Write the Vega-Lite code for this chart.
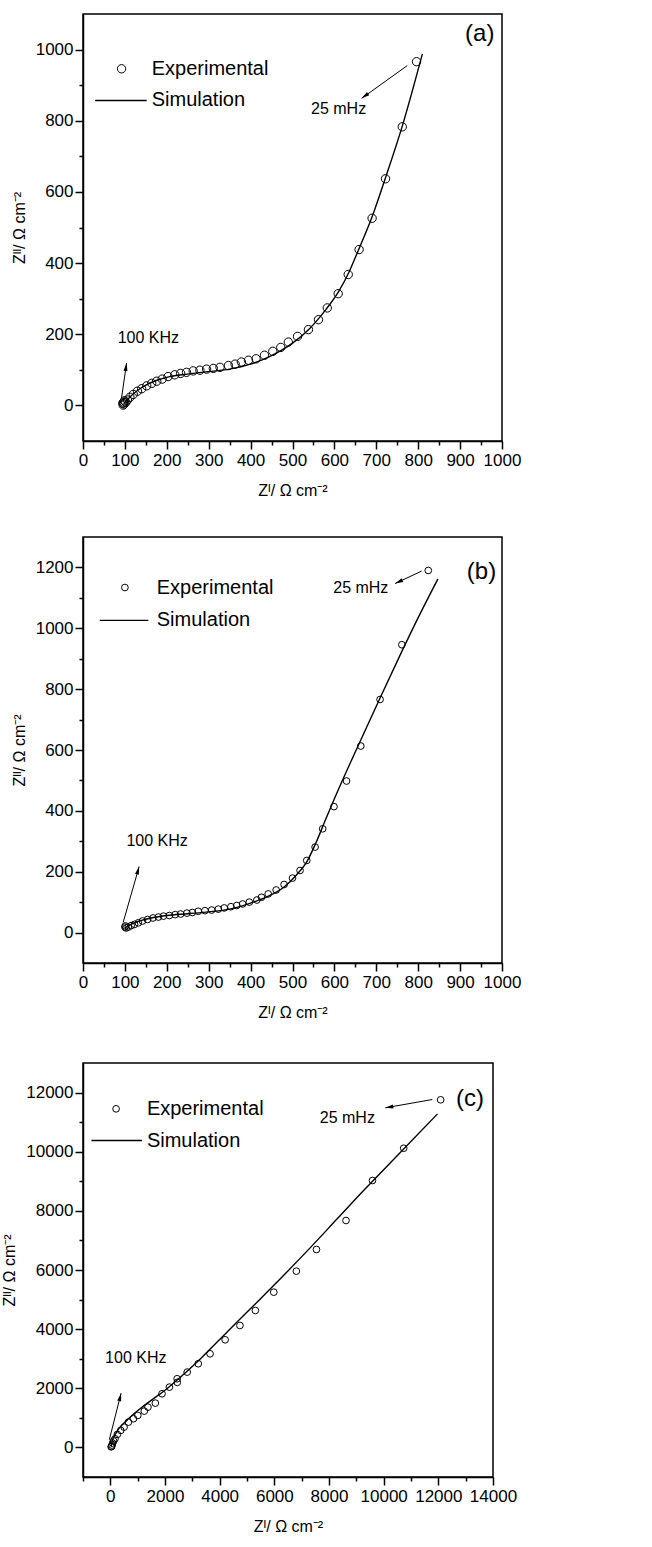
{
  "$schema": "https://vega.github.io/schema/vega-lite/v6.json",
  "padding": {"left": 0, "top": 13, "right": 10, "bottom": 2},
  "spacing": 37,
  "config": {
    "font": "Liberation Sans",
    "view": {"stroke": "black", "strokeWidth": 1.5},
    "axis": {"domainColor": "black", "domainWidth": 1.5, "tickColor": "black", "tickWidth": 1.5, "labelColor": "black", "labelFontSize": 17, "titleFontSize": 16, "titleFontWeight": "normal", "titleColor": "black", "grid": false, "labelFlush": false, "labelOverlap": false, "format": "d"}
  },
  "datasets": {
    "a_exp": [
      {"x": 95, "y": 6}, {"x": 96, "y": 1}, {"x": 97, "y": 9}, {"x": 98, "y": 4}, {"x": 99, "y": 13}, {"x": 102, "y": 9}, {"x": 106, "y": 15}, {"x": 112, "y": 23}, {"x": 120, "y": 31}, {"x": 130, "y": 40}, {"x": 140, "y": 47}, {"x": 152, "y": 55}, {"x": 164, "y": 62}, {"x": 176, "y": 68}, {"x": 189, "y": 74}, {"x": 203, "y": 81}, {"x": 219, "y": 86}, {"x": 233, "y": 90}, {"x": 247, "y": 93}, {"x": 263, "y": 97}, {"x": 279, "y": 99}, {"x": 295, "y": 102}, {"x": 311, "y": 104}, {"x": 327, "y": 107}, {"x": 347, "y": 112}, {"x": 363, "y": 116}, {"x": 378, "y": 122}, {"x": 395, "y": 127}, {"x": 413, "y": 131}, {"x": 433, "y": 141}, {"x": 453, "y": 152}, {"x": 472, "y": 163}, {"x": 490, "y": 178}, {"x": 512, "y": 194}, {"x": 538, "y": 213}, {"x": 562, "y": 241}, {"x": 583, "y": 274}, {"x": 609, "y": 314}, {"x": 633, "y": 368}, {"x": 659, "y": 438}, {"x": 690, "y": 526}, {"x": 722, "y": 637}, {"x": 762, "y": 783}, {"x": 796, "y": 966}
    ],
    "a_sim": [
      {"x": 97, "y": 3}, {"x": 105, "y": 15}, {"x": 115, "y": 27}, {"x": 130, "y": 42}, {"x": 150, "y": 57}, {"x": 175, "y": 70}, {"x": 200, "y": 79}, {"x": 250, "y": 88}, {"x": 300, "y": 95}, {"x": 350, "y": 102}, {"x": 400, "y": 116}, {"x": 450, "y": 140}, {"x": 500, "y": 175}, {"x": 540, "y": 215}, {"x": 580, "y": 270}, {"x": 610, "y": 320}, {"x": 635, "y": 375}, {"x": 655, "y": 430}, {"x": 690, "y": 530}, {"x": 722, "y": 640}, {"x": 762, "y": 785}, {"x": 810, "y": 988}
    ],
    "b_exp": [
      {"x": 100, "y": 18}, {"x": 101, "y": 22}, {"x": 103, "y": 15}, {"x": 108, "y": 18}, {"x": 115, "y": 23}, {"x": 123, "y": 27}, {"x": 132, "y": 32}, {"x": 142, "y": 38}, {"x": 154, "y": 43}, {"x": 167, "y": 48}, {"x": 180, "y": 51}, {"x": 192, "y": 54}, {"x": 206, "y": 56}, {"x": 220, "y": 59}, {"x": 233, "y": 61}, {"x": 248, "y": 64}, {"x": 261, "y": 66}, {"x": 275, "y": 70}, {"x": 291, "y": 72}, {"x": 307, "y": 74}, {"x": 323, "y": 77}, {"x": 337, "y": 81}, {"x": 353, "y": 85}, {"x": 367, "y": 89}, {"x": 381, "y": 94}, {"x": 397, "y": 100}, {"x": 415, "y": 107}, {"x": 426, "y": 116}, {"x": 442, "y": 127}, {"x": 461, "y": 140}, {"x": 480, "y": 158}, {"x": 500, "y": 179}, {"x": 518, "y": 204}, {"x": 534, "y": 237}, {"x": 554, "y": 281}, {"x": 572, "y": 341}, {"x": 599, "y": 414}, {"x": 629, "y": 498}, {"x": 663, "y": 613}, {"x": 709, "y": 766}, {"x": 761, "y": 946}, {"x": 824, "y": 1190}
    ],
    "b_sim": [
      {"x": 100, "y": 15}, {"x": 110, "y": 24}, {"x": 125, "y": 33}, {"x": 140, "y": 40}, {"x": 160, "y": 47}, {"x": 180, "y": 52}, {"x": 200, "y": 56}, {"x": 250, "y": 62}, {"x": 300, "y": 68}, {"x": 350, "y": 77}, {"x": 400, "y": 97}, {"x": 440, "y": 118}, {"x": 480, "y": 150}, {"x": 510, "y": 190}, {"x": 535, "y": 235}, {"x": 555, "y": 292}, {"x": 580, "y": 375}, {"x": 600, "y": 440}, {"x": 640, "y": 564}, {"x": 700, "y": 744}, {"x": 761, "y": 924}, {"x": 800, "y": 1035}, {"x": 847, "y": 1162}
    ],
    "c_exp": [
      {"x": 30, "y": 20}, {"x": 49, "y": 34}, {"x": 60, "y": 80}, {"x": 85, "y": 147}, {"x": 120, "y": 220}, {"x": 171, "y": 293}, {"x": 257, "y": 440}, {"x": 380, "y": 575}, {"x": 503, "y": 687}, {"x": 663, "y": 856}, {"x": 847, "y": 970}, {"x": 1006, "y": 1082}, {"x": 1241, "y": 1228}, {"x": 1376, "y": 1363}, {"x": 1647, "y": 1498}, {"x": 1891, "y": 1815}, {"x": 2162, "y": 2039}, {"x": 2444, "y": 2322}, {"x": 2450, "y": 2200}, {"x": 2812, "y": 2547}, {"x": 3217, "y": 2830}, {"x": 3648, "y": 3167}, {"x": 4200, "y": 3640}, {"x": 4742, "y": 4124}, {"x": 5306, "y": 4631}, {"x": 5980, "y": 5250}, {"x": 6806, "y": 5961}, {"x": 7542, "y": 6694}, {"x": 8622, "y": 7674}, {"x": 9591, "y": 9026}, {"x": 10733, "y": 10118}, {"x": 12085, "y": 11755}
    ],
    "c_sim": [
      {"x": 30, "y": 30}, {"x": 60, "y": 180}, {"x": 230, "y": 520}, {"x": 600, "y": 910}, {"x": 1090, "y": 1310}, {"x": 1580, "y": 1650}, {"x": 2070, "y": 1985}, {"x": 2570, "y": 2380}, {"x": 3300, "y": 3000}, {"x": 4300, "y": 3930}, {"x": 5300, "y": 4850}, {"x": 6300, "y": 5780}, {"x": 7300, "y": 6740}, {"x": 8300, "y": 7730}, {"x": 9300, "y": 8720}, {"x": 10300, "y": 9680}, {"x": 11970, "y": 11280}
    ]
  },
  "vconcat": [
    {
      "width": 419, "height": 427,
      "resolve": {"axis": {"x": "independent", "y": "independent"}},
      "encoding": {
        "x": {"field": "x", "type": "quantitative", "scale": {"domain": [0, 1000], "nice": false, "zero": false}, "axis": null},
        "y": {"field": "y", "type": "quantitative", "scale": {"domain": [-100, 1100], "nice": false, "zero": false}, "axis": null}
      },
      "layer": [
        {"data": {"name": "a_sim"}, "mark": {"type": "line", "color": "black", "strokeWidth": 1.4, "interpolate": "monotone"},
         "encoding": {
           "x": {"field": "x", "type": "quantitative", "scale": {"domain": [0, 1000], "nice": false, "zero": false}, "axis": {"orient": "bottom", "values": [0,100,200,300,400,500,600,700,800,900,1000], "tickSize": 8, "labelPadding": 3, "title": "Zᴵ/ Ω cm⁻²", "titlePadding": 14}},
           "y": {"field": "y", "type": "quantitative", "scale": {"domain": [-100, 1100], "nice": false, "zero": false}, "axis": {"orient": "left", "values": [0,200,400,600,800,1000], "tickSize": 8, "labelPadding": 2, "title": "Zᴵᴵ/ Ω cm⁻²", "titlePadding": 8}}
         }},
        {"data": {"name": "a_exp"}, "mark": {"type": "point", "shape": "circle", "filled": false, "color": "black", "strokeWidth": 1, "size": 70, "opacity": 1},
         "encoding": {
           "x": {"field": "x", "type": "quantitative", "scale": {"domain": [0, 1000], "nice": false, "zero": false}, "axis": {"orient": "bottom", "values": [50,150,250,350,450,550,650,750,850,950], "tickSize": 4, "labels": false, "domain": false, "title": null}},
           "y": {"field": "y", "type": "quantitative", "scale": {"domain": [-100, 1100], "nice": false, "zero": false}, "axis": {"orient": "left", "values": [100,300,500,700,900], "tickSize": 4, "labels": false, "domain": false, "title": null}}
         }},
        {"data": {"values": [{"x": 92, "y": 946}]}, "mark": {"type": "point", "shape": "circle", "filled": false, "color": "black", "strokeWidth": 1, "size": 70, "opacity": 1}},
        {"data": {"values": [{"x": 29, "x2": 152, "y": 857}]}, "mark": {"type": "rule", "color": "black", "strokeWidth": 1.4}, "encoding": {"x2": {"field": "x2"}}},
        {"data": {"values": [{"x": 164, "y": 946, "label": "Experimental"}, {"x": 164, "y": 857, "label": "Simulation"}]}, "mark": {"type": "text", "align": "left", "baseline": "middle", "fontSize": 20, "color": "black"}, "encoding": {"text": {"field": "label"}}},
        {"data": {"values": [{"x": 947, "y": 1045, "label": "(a)"}]}, "mark": {"type": "text", "align": "center", "baseline": "middle", "fontSize": 24, "color": "black"}, "encoding": {"text": {"field": "label"}}},
        {"data": {"values": [{"x": 610, "y": 833, "label": "25 mHz"}, {"x": 156, "y": 190, "label": "100 KHz"}]}, "mark": {"type": "text", "align": "center", "baseline": "middle", "fontSize": 16, "color": "black"}, "encoding": {"text": {"field": "label"}}},
        {"data": {"values": [{"x": 774, "y": 955, "x2": 665, "y2": 863}, {"x": 92, "y": 21, "x2": 104, "y2": 119}]}, "mark": {"type": "rule", "color": "black", "strokeWidth": 1}, "encoding": {"x2": {"field": "x2"}, "y2": {"field": "y2"}}},
        {"data": {"values": [{"x2": 665, "y2": 863}]}, "mark": {"type": "point", "shape": "M0,0L0.5,2L-0.5,2Z", "filled": true, "color": "black", "size": 64, "opacity": 1, "angle": 234},
         "encoding": {"x": {"field": "x2", "type": "quantitative", "scale": {"domain": [0, 1000], "nice": false, "zero": false}, "axis": null}, "y": {"field": "y2", "type": "quantitative", "scale": {"domain": [-100, 1100], "nice": false, "zero": false}, "axis": null}}},
        {"data": {"values": [{"x2": 104, "y2": 119}]}, "mark": {"type": "point", "shape": "M0,0L0.5,2L-0.5,2Z", "filled": true, "color": "black", "size": 64, "opacity": 1, "angle": 8},
         "encoding": {"x": {"field": "x2", "type": "quantitative", "scale": {"domain": [0, 1000], "nice": false, "zero": false}, "axis": null}, "y": {"field": "y2", "type": "quantitative", "scale": {"domain": [-100, 1100], "nice": false, "zero": false}, "axis": null}}}
      ]
    },
    {
      "spacing": 41,
      "vconcat": [
        {
          "width": 419, "height": 426,
          "resolve": {"axis": {"x": "independent", "y": "independent"}},
          "encoding": {
            "x": {"field": "x", "type": "quantitative", "scale": {"domain": [0, 1000], "nice": false, "zero": false}, "axis": null},
            "y": {"field": "y", "type": "quantitative", "scale": {"domain": [-100, 1300], "nice": false, "zero": false}, "axis": null}
          },
          "layer": [
            {"data": {"name": "b_sim"}, "mark": {"type": "line", "color": "black", "strokeWidth": 1.4, "interpolate": "monotone"},
             "encoding": {
               "x": {"field": "x", "type": "quantitative", "scale": {"domain": [0, 1000], "nice": false, "zero": false}, "axis": {"orient": "bottom", "values": [0,100,200,300,400,500,600,700,800,900,1000], "tickSize": 8, "labelPadding": 3, "title": "Zᴵ/ Ω cm⁻²", "titlePadding": 14}},
               "y": {"field": "y", "type": "quantitative", "scale": {"domain": [-100, 1300], "nice": false, "zero": false}, "axis": {"orient": "left", "values": [0,200,400,600,800,1000,1200], "tickSize": 8, "labelPadding": 2, "title": "Zᴵᴵ/ Ω cm⁻²", "titlePadding": 8}}
             }},
            {"data": {"name": "b_exp"}, "mark": {"type": "point", "shape": "circle", "filled": false, "color": "black", "strokeWidth": 1, "size": 45, "opacity": 1},
             "encoding": {
               "x": {"field": "x", "type": "quantitative", "scale": {"domain": [0, 1000], "nice": false, "zero": false}, "axis": {"orient": "bottom", "values": [50,150,250,350,450,550,650,750,850,950], "tickSize": 4, "labels": false, "domain": false, "title": null}},
               "y": {"field": "y", "type": "quantitative", "scale": {"domain": [-100, 1300], "nice": false, "zero": false}, "axis": {"orient": "left", "values": [100,300,500,700,900,1100], "tickSize": 4, "labels": false, "domain": false, "title": null}}
             }},
            {"data": {"values": [{"x": 100, "y": 1134}]}, "mark": {"type": "point", "shape": "circle", "filled": false, "color": "black", "strokeWidth": 1, "size": 45, "opacity": 1}},
            {"data": {"values": [{"x": 40, "x2": 156, "y": 1026}]}, "mark": {"type": "rule", "color": "black", "strokeWidth": 1.4}, "encoding": {"x2": {"field": "x2"}}},
            {"data": {"values": [{"x": 176, "y": 1134, "label": "Experimental"}, {"x": 176, "y": 1026, "label": "Simulation"}]}, "mark": {"type": "text", "align": "left", "baseline": "middle", "fontSize": 20, "color": "black"}, "encoding": {"text": {"field": "label"}}},
            {"data": {"values": [{"x": 951, "y": 1185, "label": "(b)"}]}, "mark": {"type": "text", "align": "center", "baseline": "middle", "fontSize": 24, "color": "black"}, "encoding": {"text": {"field": "label"}}},
            {"data": {"values": [{"x": 663, "y": 1134, "label": "25 mHz"}, {"x": 177, "y": 300, "label": "100 KHz"}]}, "mark": {"type": "text", "align": "center", "baseline": "middle", "fontSize": 16, "color": "black"}, "encoding": {"text": {"field": "label"}}},
            {"data": {"values": [{"x": 808, "y": 1188, "x2": 745, "y2": 1147}, {"x": 96, "y": 34, "x2": 134, "y2": 217}]}, "mark": {"type": "rule", "color": "black", "strokeWidth": 1}, "encoding": {"x2": {"field": "x2"}, "y2": {"field": "y2"}}},
            {"data": {"values": [{"x2": 745, "y2": 1147}]}, "mark": {"type": "point", "shape": "M0,0L0.5,2L-0.5,2Z", "filled": true, "color": "black", "size": 64, "opacity": 1, "angle": 245},
             "encoding": {"x": {"field": "x2", "type": "quantitative", "scale": {"domain": [0, 1000], "nice": false, "zero": false}, "axis": null}, "y": {"field": "y2", "type": "quantitative", "scale": {"domain": [-100, 1300], "nice": false, "zero": false}, "axis": null}}},
            {"data": {"values": [{"x2": 134, "y2": 217}]}, "mark": {"type": "point", "shape": "M0,0L0.5,2L-0.5,2Z", "filled": true, "color": "black", "size": 64, "opacity": 1, "angle": 16},
             "encoding": {"x": {"field": "x2", "type": "quantitative", "scale": {"domain": [0, 1000], "nice": false, "zero": false}, "axis": null}, "y": {"field": "y2", "type": "quantitative", "scale": {"domain": [-100, 1300], "nice": false, "zero": false}, "axis": null}}}
          ]
        },
        {
          "width": 410, "height": 414,
          "resolve": {"axis": {"x": "independent", "y": "independent"}},
          "encoding": {
            "x": {"field": "x", "type": "quantitative", "scale": {"domain": [-1000, 14000], "nice": false, "zero": false}, "axis": null},
            "y": {"field": "y", "type": "quantitative", "scale": {"domain": [-1000, 13000], "nice": false, "zero": false}, "axis": null}
          },
          "layer": [
            {"data": {"name": "c_sim"}, "mark": {"type": "line", "color": "black", "strokeWidth": 1.4, "interpolate": "monotone"},
             "encoding": {
               "x": {"field": "x", "type": "quantitative", "scale": {"domain": [-1000, 14000], "nice": false, "zero": false}, "axis": {"orient": "bottom", "values": [0,2000,4000,6000,8000,10000,12000,14000], "tickSize": 8, "labelPadding": 3, "title": "Zᴵ/ Ω cm⁻²", "titlePadding": 14}},
               "y": {"field": "y", "type": "quantitative", "scale": {"domain": [-1000, 13000], "nice": false, "zero": false}, "axis": {"orient": "left", "values": [0,2000,4000,6000,8000,10000,12000], "tickSize": 8, "labelPadding": 2, "title": "Zᴵᴵ/ Ω cm⁻²", "titlePadding": 8}}
             }},
            {"data": {"name": "c_exp"}, "mark": {"type": "point", "shape": "circle", "filled": false, "color": "black", "strokeWidth": 1, "size": 45, "opacity": 1},
             "encoding": {
               "x": {"field": "x", "type": "quantitative", "scale": {"domain": [-1000, 14000], "nice": false, "zero": false}, "axis": {"orient": "bottom", "values": [-1000,1000,3000,5000,7000,9000,11000,13000], "tickSize": 4, "labels": false, "domain": false, "title": null}},
               "y": {"field": "y", "type": "quantitative", "scale": {"domain": [-1000, 13000], "nice": false, "zero": false}, "axis": {"orient": "left", "values": [1000,3000,5000,7000,9000,11000], "tickSize": 4, "labels": false, "domain": false, "title": null}}
             }},
            {"data": {"values": [{"x": 210, "y": 11450}]}, "mark": {"type": "point", "shape": "circle", "filled": false, "color": "black", "strokeWidth": 1, "size": 45, "opacity": 1}},
            {"data": {"values": [{"x": -689, "x2": 1155, "y": 10379}]}, "mark": {"type": "rule", "color": "black", "strokeWidth": 1.4}, "encoding": {"x2": {"field": "x2"}}},
            {"data": {"values": [{"x": 1337, "y": 11450, "label": "Experimental"}, {"x": 1337, "y": 10379, "label": "Simulation"}]}, "mark": {"type": "text", "align": "left", "baseline": "middle", "fontSize": 20, "color": "black"}, "encoding": {"text": {"field": "label"}}},
            {"data": {"values": [{"x": 13154, "y": 11788, "label": "(c)"}]}, "mark": {"type": "text", "align": "center", "baseline": "middle", "fontSize": 24, "color": "black"}, "encoding": {"text": {"field": "label"}}},
            {"data": {"values": [{"x": 8670, "y": 11146, "label": "25 mHz"}, {"x": 932, "y": 3032, "label": "100 KHz"}]}, "mark": {"type": "text", "align": "center", "baseline": "middle", "fontSize": 16, "color": "black"}, "encoding": {"text": {"field": "label"}}},
            {"data": {"values": [{"x": 11780, "y": 11765, "x2": 10059, "y2": 11484}, {"x": -37, "y": 260, "x2": 394, "y2": 1836}]}, "mark": {"type": "rule", "color": "black", "strokeWidth": 1}, "encoding": {"x2": {"field": "x2"}, "y2": {"field": "y2"}}},
            {"data": {"values": [{"x2": 10059, "y2": 11484}]}, "mark": {"type": "point", "shape": "M0,0L0.5,2L-0.5,2Z", "filled": true, "color": "black", "size": 64, "opacity": 1, "angle": 260},
             "encoding": {"x": {"field": "x2", "type": "quantitative", "scale": {"domain": [-1000, 14000], "nice": false, "zero": false}, "axis": null}, "y": {"field": "y2", "type": "quantitative", "scale": {"domain": [-1000, 13000], "nice": false, "zero": false}, "axis": null}}},
            {"data": {"values": [{"x2": 394, "y2": 1836}]}, "mark": {"type": "point", "shape": "M0,0L0.5,2L-0.5,2Z", "filled": true, "color": "black", "size": 64, "opacity": 1, "angle": 14},
             "encoding": {"x": {"field": "x2", "type": "quantitative", "scale": {"domain": [-1000, 14000], "nice": false, "zero": false}, "axis": null}, "y": {"field": "y2", "type": "quantitative", "scale": {"domain": [-1000, 13000], "nice": false, "zero": false}, "axis": null}}}
          ]
        }
      ]
    }
  ]
}
